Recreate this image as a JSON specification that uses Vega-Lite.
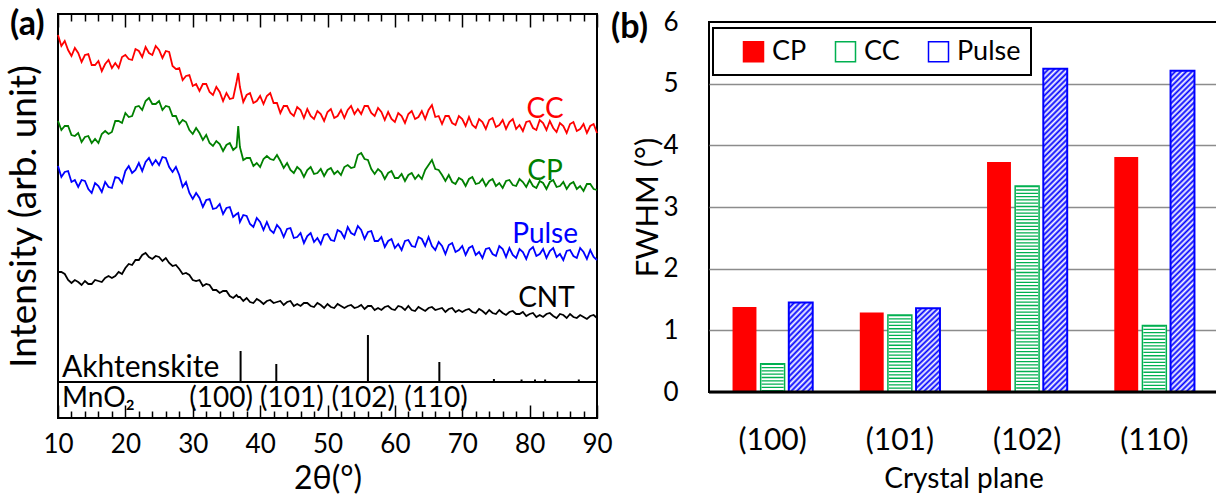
{
"$schema": "https://vega.github.io/schema/vega-lite/v6.json",
"background": "white",
"padding": {"left": 4, "top": 7, "right": 0, "bottom": 0},
"spacing": -4,
"datasets": {
"spectra": [
{"t":10,"CC":383,"CP":297,"Pulse":252,"CNT":146},
{"t":10.5,"CC":372,"CP":288,"Pulse":241,"CNT":146},
{"t":11,"CC":377,"CP":292,"Pulse":246,"CNT":144},
{"t":11.5,"CC":368,"CP":292,"Pulse":247,"CNT":138},
{"t":12,"CC":362,"CP":283,"Pulse":236,"CNT":135},
{"t":12.5,"CC":370,"CP":282,"Pulse":238,"CNT":138},
{"t":13,"CC":365,"CP":285,"Pulse":231,"CNT":136},
{"t":13.5,"CC":356,"CP":276,"Pulse":238,"CNT":133},
{"t":14,"CC":363,"CP":281,"Pulse":237,"CNT":137},
{"t":14.5,"CC":364,"CP":282,"Pulse":229,"CNT":134},
{"t":15,"CC":353,"CP":275,"Pulse":225,"CNT":134},
{"t":15.5,"CC":353,"CP":279,"Pulse":235,"CNT":138},
{"t":16,"CC":357,"CP":275,"Pulse":232,"CNT":137},
{"t":16.5,"CC":347,"CP":284,"Pulse":226,"CNT":136},
{"t":17,"CC":354,"CP":287,"Pulse":236,"CNT":140},
{"t":17.5,"CC":358,"CP":284,"Pulse":231,"CNT":142},
{"t":18,"CC":350,"CP":286,"Pulse":230,"CNT":140},
{"t":18.5,"CC":355,"CP":297,"Pulse":241,"CNT":142},
{"t":19,"CC":350,"CP":297,"Pulse":240,"CNT":146},
{"t":19.5,"CC":361,"CP":295,"Pulse":235,"CNT":144},
{"t":20,"CC":363,"CP":305,"Pulse":247,"CNT":150},
{"t":20.5,"CC":359,"CP":301,"Pulse":252,"CNT":154},
{"t":21,"CC":358,"CP":302,"Pulse":245,"CNT":153},
{"t":21.5,"CC":369,"CP":311,"Pulse":248,"CNT":158},
{"t":22,"CC":367,"CP":312,"Pulse":255,"CNT":158},
{"t":22.5,"CC":361,"CP":308,"Pulse":247,"CNT":163},
{"t":23,"CC":371,"CP":317,"Pulse":256,"CNT":165},
{"t":23.5,"CC":365,"CP":320,"Pulse":260,"CNT":161},
{"t":24,"CC":363,"CP":314,"Pulse":253,"CNT":159},
{"t":24.5,"CC":372,"CP":314,"Pulse":258,"CNT":162},
{"t":25,"CC":368,"CP":317,"Pulse":253,"CNT":161},
{"t":25.5,"CC":360,"CP":308,"Pulse":261,"CNT":157},
{"t":26,"CC":367,"CP":312,"Pulse":260,"CNT":160},
{"t":26.5,"CC":366,"CP":311,"Pulse":251,"CNT":155},
{"t":27,"CC":352,"CP":302,"Pulse":246,"CNT":152},
{"t":27.5,"CC":349,"CP":302,"Pulse":251,"CNT":153},
{"t":28,"CC":350,"CP":294,"Pulse":243,"CNT":149},
{"t":28.5,"CC":338,"CP":298,"Pulse":231,"CNT":144},
{"t":29,"CC":342,"CP":296,"Pulse":236,"CNT":145},
{"t":29.5,"CC":343,"CP":288,"Pulse":225,"CNT":143},
{"t":30,"CC":332,"CP":284,"Pulse":219,"CNT":138},
{"t":30.5,"CC":334,"CP":290,"Pulse":225,"CNT":137},
{"t":31,"CC":327,"CP":285,"Pulse":220,"CNT":138},
{"t":31.5,"CC":334,"CP":278,"Pulse":211,"CNT":132},
{"t":32,"CC":334,"CP":283,"Pulse":218,"CNT":134},
{"t":32.5,"CC":326,"CP":275,"Pulse":219,"CNT":133},
{"t":33,"CC":323,"CP":272,"Pulse":209,"CNT":128},
{"t":33.5,"CC":331,"CP":277,"Pulse":210,"CNT":128},
{"t":34,"CC":326,"CP":274,"Pulse":214,"CNT":125},
{"t":34.5,"CC":317,"CP":267,"Pulse":204,"CNT":127},
{"t":35,"CC":325,"CP":273,"Pulse":210,"CNT":127},
{"t":35.5,"CC":319,"CP":275,"Pulse":211,"CNT":122},
{"t":36,"CC":320,"CP":268,"Pulse":201,"CNT":120},
{"t":36.5,"CC":336,"CP":271,"Pulse":204,"CNT":123},
{"t":36.75,"CC":345,"CP":292,"Pulse":205,"CNT":121},
{"t":37,"CC":331,"CP":271,"Pulse":196,"CNT":121},
{"t":37.5,"CC":316,"CP":258,"Pulse":203,"CNT":117},
{"t":38,"CC":323,"CP":260,"Pulse":202,"CNT":120},
{"t":38.5,"CC":325,"CP":260,"Pulse":194,"CNT":116},
{"t":39,"CC":315,"CP":252,"Pulse":191,"CNT":115},
{"t":39.5,"CC":317,"CP":255,"Pulse":200,"CNT":119},
{"t":40,"CC":322,"CP":251,"Pulse":196,"CNT":117},
{"t":40.5,"CC":314,"CP":259,"Pulse":188,"CNT":114},
{"t":41,"CC":322,"CP":262,"Pulse":196,"CNT":117},
{"t":41.5,"CC":325,"CP":259,"Pulse":188,"CNT":118},
{"t":42,"CC":315,"CP":258,"Pulse":185,"CNT":115},
{"t":42.5,"CC":315,"CP":263,"Pulse":193,"CNT":116},
{"t":43,"CC":305,"CP":257,"Pulse":189,"CNT":117},
{"t":43.5,"CC":312,"CP":250,"Pulse":181,"CNT":113},
{"t":44,"CC":312,"CP":255,"Pulse":189,"CNT":116},
{"t":44.5,"CC":305,"CP":248,"Pulse":190,"CNT":117},
{"t":45,"CC":302,"CP":245,"Pulse":180,"CNT":112},
{"t":45.5,"CC":311,"CP":251,"Pulse":181,"CNT":114},
{"t":46,"CC":308,"CP":248,"Pulse":185,"CNT":112},
{"t":46.5,"CC":300,"CP":241,"Pulse":175,"CNT":115},
{"t":47,"CC":309,"CP":248,"Pulse":182,"CNT":115},
{"t":47.5,"CC":302,"CP":251,"Pulse":185,"CNT":112},
{"t":48,"CC":299,"CP":244,"Pulse":176,"CNT":111},
{"t":48.5,"CC":307,"CP":245,"Pulse":180,"CNT":115},
{"t":49,"CC":304,"CP":249,"Pulse":174,"CNT":113},
{"t":49.5,"CC":297,"CP":242,"Pulse":183,"CNT":110},
{"t":50,"CC":306,"CP":248,"Pulse":184,"CNT":114},
{"t":50.5,"CC":309,"CP":250,"Pulse":178,"CNT":111},
{"t":51,"CC":300,"CP":244,"Pulse":177,"CNT":110},
{"t":51.5,"CC":302,"CP":247,"Pulse":188,"CNT":114},
{"t":52,"CC":308,"CP":243,"Pulse":186,"CNT":112},
{"t":52.5,"CC":300,"CP":251,"Pulse":180,"CNT":110},
{"t":53,"CC":308,"CP":253,"Pulse":191,"CNT":112},
{"t":53.5,"CC":312,"CP":250,"Pulse":185,"CNT":113},
{"t":54,"CC":304,"CP":251,"Pulse":183,"CNT":110},
{"t":54.5,"CC":309,"CP":263,"Pulse":192,"CNT":111},
{"t":55,"CC":304,"CP":265,"Pulse":188,"CNT":113},
{"t":55.5,"CC":312,"CP":259,"Pulse":179,"CNT":109},
{"t":56,"CC":312,"CP":258,"Pulse":186,"CNT":112},
{"t":56.5,"CC":305,"CP":249,"Pulse":187,"CNT":112},
{"t":57,"CC":302,"CP":244,"Pulse":177,"CNT":108},
{"t":57.5,"CC":310,"CP":249,"Pulse":177,"CNT":110},
{"t":58,"CC":306,"CP":246,"Pulse":181,"CNT":108},
{"t":58.5,"CC":298,"CP":239,"Pulse":171,"CNT":111},
{"t":59,"CC":306,"CP":245,"Pulse":177,"CNT":112},
{"t":59.5,"CC":299,"CP":247,"Pulse":179,"CNT":109},
{"t":60,"CC":296,"CP":240,"Pulse":170,"CNT":108},
{"t":60.5,"CC":305,"CP":240,"Pulse":174,"CNT":112},
{"t":61,"CC":302,"CP":244,"Pulse":168,"CNT":111},
{"t":61.5,"CC":295,"CP":237,"Pulse":177,"CNT":108},
{"t":62,"CC":304,"CP":243,"Pulse":178,"CNT":112},
{"t":62.5,"CC":307,"CP":245,"Pulse":172,"CNT":108},
{"t":63,"CC":299,"CP":239,"Pulse":171,"CNT":107},
{"t":63.5,"CC":301,"CP":243,"Pulse":181,"CNT":111},
{"t":64,"CC":307,"CP":239,"Pulse":179,"CNT":109},
{"t":64.5,"CC":299,"CP":248,"Pulse":172,"CNT":107},
{"t":65,"CC":308,"CP":253,"Pulse":181,"CNT":110},
{"t":65.5,"CC":313,"CP":258,"Pulse":172,"CNT":111},
{"t":66,"CC":301,"CP":249,"Pulse":168,"CNT":108},
{"t":66.5,"CC":302,"CP":248,"Pulse":176,"CNT":109},
{"t":67,"CC":294,"CP":243,"Pulse":172,"CNT":110},
{"t":67.5,"CC":302,"CP":237,"Pulse":164,"CNT":106},
{"t":68,"CC":302,"CP":243,"Pulse":173,"CNT":109},
{"t":68.5,"CC":295,"CP":236,"Pulse":175,"CNT":110},
{"t":69,"CC":293,"CP":234,"Pulse":166,"CNT":106},
{"t":69.5,"CC":302,"CP":240,"Pulse":168,"CNT":108},
{"t":70,"CC":299,"CP":238,"Pulse":172,"CNT":106},
{"t":70.5,"CC":292,"CP":232,"Pulse":163,"CNT":108},
{"t":71,"CC":301,"CP":239,"Pulse":170,"CNT":109},
{"t":71.5,"CC":293,"CP":241,"Pulse":172,"CNT":106},
{"t":72,"CC":290,"CP":234,"Pulse":163,"CNT":105},
{"t":72.5,"CC":299,"CP":235,"Pulse":166,"CNT":109},
{"t":73,"CC":296,"CP":239,"Pulse":160,"CNT":107},
{"t":73.5,"CC":289,"CP":232,"Pulse":169,"CNT":104},
{"t":74,"CC":298,"CP":237,"Pulse":170,"CNT":108},
{"t":74.5,"CC":300,"CP":239,"Pulse":164,"CNT":105},
{"t":75,"CC":291,"CP":232,"Pulse":162,"CNT":104},
{"t":75.5,"CC":293,"CP":235,"Pulse":172,"CNT":108},
{"t":76,"CC":298,"CP":230,"Pulse":169,"CNT":105},
{"t":76.5,"CC":289,"CP":237,"Pulse":161,"CNT":103},
{"t":77,"CC":296,"CP":238,"Pulse":170,"CNT":106},
{"t":77.5,"CC":299,"CP":233,"Pulse":163,"CNT":107},
{"t":78,"CC":289,"CP":232,"Pulse":160,"CNT":104},
{"t":78.5,"CC":293,"CP":239,"Pulse":169,"CNT":104},
{"t":79,"CC":287,"CP":236,"Pulse":166,"CNT":106},
{"t":79.5,"CC":296,"CP":231,"Pulse":159,"CNT":102},
{"t":80,"CC":297,"CP":238,"Pulse":168,"CNT":104},
{"t":80.5,"CC":290,"CP":232,"Pulse":171,"CNT":105},
{"t":81,"CC":288,"CP":230,"Pulse":162,"CNT":101},
{"t":81.5,"CC":298,"CP":237,"Pulse":164,"CNT":103},
{"t":82,"CC":295,"CP":235,"Pulse":169,"CNT":101},
{"t":82.5,"CC":288,"CP":229,"Pulse":160,"CNT":104},
{"t":83,"CC":297,"CP":236,"Pulse":167,"CNT":105},
{"t":83.5,"CC":290,"CP":238,"Pulse":170,"CNT":102},
{"t":84,"CC":286,"CP":231,"Pulse":161,"CNT":100},
{"t":84.5,"CC":295,"CP":232,"Pulse":164,"CNT":104},
{"t":85,"CC":292,"CP":236,"Pulse":158,"CNT":103},
{"t":85.5,"CC":285,"CP":229,"Pulse":167,"CNT":100},
{"t":86,"CC":294,"CP":234,"Pulse":168,"CNT":104},
{"t":86.5,"CC":296,"CP":236,"Pulse":162,"CNT":101},
{"t":87,"CC":287,"CP":229,"Pulse":160,"CNT":100},
{"t":87.5,"CC":289,"CP":232,"Pulse":170,"CNT":103},
{"t":88,"CC":294,"CP":227,"Pulse":166,"CNT":101},
{"t":88.5,"CC":285,"CP":234,"Pulse":159,"CNT":99},
{"t":89,"CC":292,"CP":234,"Pulse":168,"CNT":102},
{"t":89.5,"CC":294,"CP":229,"Pulse":161,"CNT":103},
{"t":90,"CC":285,"CP":228,"Pulse":158,"CNT":100}
],
"fwhm": [
{"plane":"(100)","series":"CP","val":1.38},
{"plane":"(100)","series":"CC","val":0.46},
{"plane":"(100)","series":"Pulse","val":1.45},
{"plane":"(101)","series":"CP","val":1.29},
{"plane":"(101)","series":"CC","val":1.25},
{"plane":"(101)","series":"Pulse","val":1.36},
{"plane":"(102)","series":"CP","val":3.73},
{"plane":"(102)","series":"CC","val":3.34},
{"plane":"(102)","series":"Pulse","val":5.24},
{"plane":"(110)","series":"CP","val":3.81},
{"plane":"(110)","series":"CC","val":1.08},
{"plane":"(110)","series":"Pulse","val":5.21}
]
},
"hconcat": [
{
"width": 539, "height": 404,
"title": {"text": "(a)", "anchor": "start", "frame": "group", "orient": "top", "dx": -48, "dy": 31, "offset": 2, "fontSize": 34, "fontWeight": "bold", "font": "Lato", "color": "black"},
"view": {"stroke": "black", "strokeWidth": 2},
"layer": [
{
"data": {"name": "spectra"},
"transform": [{"fold": ["CC","CP","Pulse","CNT"], "as": ["series","v"]}],
"mark": {"type": "line", "strokeWidth": 1.8},
"encoding": {
"x": {"field": "t", "type": "quantitative", "scale": {"domain": [10,90], "nice": false, "zero": false},
"axis": {"orient": "bottom", "values": [10,20,30,40,50,60,70,80,90], "ticks": false, "domain": false, "grid": false, "labelFontSize": 26, "labelPadding": 13, "labelFlush": false, "title": "2θ(°)", "titleFontSize": 32, "titlePadding": 6}},
"y": {"field": "v", "type": "quantitative", "scale": {"domain": [0,404], "nice": false, "zero": false},
"axis": {"labels": false, "ticks": false, "domain": false, "grid": false, "title": "Intensity (arb. unit)", "titleFontSize": 37, "titlePadding": 15}},
"color": {"field": "series", "type": "nominal", "scale": {"domain": ["CC","CP","Pulse","CNT"], "range": ["#FF0000","#008000","#0000FF","#000000"]}, "legend": null},
"detail": {"field": "series"}
}
},
{
"data": {"values": [{"t":37.1,"h":67},{"t":42.4,"h":54},{"t":56.0,"h":83},{"t":66.6,"h":56},{"t":74.7,"h":39},{"t":78.8,"h":38.5},{"t":80.8,"h":38.5},{"t":82.3,"h":38.5},{"t":87.3,"h":38.5}]},
"mark": {"type": "rule", "strokeWidth": 2, "color": "black"},
"encoding": {
"x": {"field": "t", "type": "quantitative", "axis": {"orient": "bottom", "values": [10,20,30,40,50,60,70,80,90], "labels": false, "ticks": true, "tickSize": -13, "tickWidth": 1.5, "tickColor": "black", "domain": false, "grid": false, "title": null}},
"y": {"field": "h", "type": "quantitative", "axis": {"labels": false, "ticks": false, "domain": false, "grid": false, "title": "Intensity (arb. unit)", "titleFontSize": 37, "titlePadding": 15}},
"y2": {"datum": 36}
}
},
{
"data": {"values": [{"v": 36}]},
"mark": {"type": "rule", "strokeWidth": 2, "color": "black"},
"encoding": {"y": {"field": "v", "type": "quantitative", "axis": {"labels": false, "ticks": false, "domain": false, "grid": false, "title": "Intensity (arb. unit)", "titleFontSize": 37, "titlePadding": 15}}}
},
{
"data": {"values": [{"t": 10.6, "v": 41, "label": "Akhtenskite"}]},
"mark": {"type": "text", "align": "left", "baseline": "alphabetic", "fontSize": 30, "font": "Lato", "color": "black"},
"encoding": {
"x": {"field": "t", "type": "quantitative", "axis": {"orient": "bottom", "values": [12,14,16,18,22,24,26,28,32,34,36,38,42,44,46,48,52,54,56,58,62,64,66,68,72,74,76,78,82,84,86,88], "labels": false, "ticks": true, "tickSize": -7, "tickWidth": 1.5, "tickColor": "black", "domain": false, "grid": false, "title": null}},
"y": {"field": "v", "type": "quantitative", "axis": {"labels": false, "ticks": false, "domain": false, "grid": false, "title": "Intensity (arb. unit)", "titleFontSize": 37, "titlePadding": 15}},
"text": {"field": "label"}
}
},
{
"data": {"values": [{"t": 10.6, "v": 11, "label": "MnO₂"}]},
"mark": {"type": "text", "align": "left", "baseline": "alphabetic", "fontSize": 28, "font": "Lato", "color": "black"},
"encoding": {
"x": {"field": "t", "type": "quantitative", "axis": {"orient": "top", "values": [10,20,30,40,50,60,70,80,90], "labels": false, "ticks": true, "tickSize": -13, "tickWidth": 1.5, "tickColor": "black", "domain": false, "grid": false, "title": null}},
"y": {"field": "v", "type": "quantitative", "axis": {"labels": false, "ticks": false, "domain": false, "grid": false, "title": "Intensity (arb. unit)", "titleFontSize": 37, "titlePadding": 15}},
"text": {"field": "label"}
}
},
{
"data": {"values": [{"t": 34.2, "v": 11, "label": "(100)"},{"t": 44.7, "v": 11, "label": "(101)"},{"t": 55.3, "v": 11, "label": "(102)"},{"t": 66.1, "v": 11, "label": "(110)"}]},
"mark": {"type": "text", "align": "center", "baseline": "alphabetic", "fontSize": 28, "font": "Lato", "color": "black"},
"encoding": {
"x": {"field": "t", "type": "quantitative", "axis": {"orient": "top", "values": [12,14,16,18,22,24,26,28,32,34,36,38,42,44,46,48,52,54,56,58,62,64,66,68,72,74,76,78,82,84,86,88], "labels": false, "ticks": true, "tickSize": -7, "tickWidth": 1.5, "tickColor": "black", "domain": false, "grid": false, "title": null}},
"y": {"field": "v", "type": "quantitative", "axis": {"labels": false, "ticks": false, "domain": false, "grid": false, "title": "Intensity (arb. unit)", "titleFontSize": 37, "titlePadding": 15}},
"text": {"field": "label"}
}
},
{
"data": {"values": [{"t": 82.3, "v": 300, "series": "CC"},{"t": 82.3, "v": 238, "series": "CP"},{"t": 82.3, "v": 175, "series": "Pulse"},{"t": 82.5, "v": 111, "series": "CNT"}]},
"mark": {"type": "text", "align": "center", "baseline": "alphabetic", "fontSize": 28, "font": "Lato"},
"encoding": {
"x": {"field": "t", "type": "quantitative", "axis": null},
"y": {"field": "v", "type": "quantitative", "axis": {"labels": false, "ticks": false, "domain": false, "grid": false, "title": "Intensity (arb. unit)", "titleFontSize": 37, "titlePadding": 15}},
"text": {"field": "series"},
"color": {"field": "series", "type": "nominal", "legend": null}
}
}
],
"resolve": {"axis": {"x": "independent"}}
},
{
"vconcat": [
{
"width": 509, "height": 8,
"view": {"stroke": null, "fill": null},
"data": {"values": [{}]},
"mark": {"type": "point", "opacity": 0},
"encoding": {}
},
{
"width": 509, "height": 370,
"title": {"text": "(b)", "anchor": "start", "frame": "group", "orient": "top", "dx": -98, "dy": 43, "offset": 7, "fontSize": 34, "fontWeight": "bold", "font": "Lato", "color": "black"},
"view": {"stroke": "black", "strokeWidth": 2},
"layer": [
{
"data": {"name": "fwhm"},
"transform": [{"filter": "datum.series === 'CP'"}],
"mark": {"type": "bar", "strokeWidth": 1},
"encoding": {
"x": {"field": "plane", "type": "nominal", "scale": {"domain": ["(100)","(101)","(102)","(110)"], "paddingInner": 0.37, "paddingOuter": 0.185},
"axis": {"labelAngle": 0, "ticks": false, "domain": false, "grid": false, "labelFontSize": 30, "labelPadding": 33, "title": "Crystal plane", "titleFontSize": 28, "titlePadding": 10}},
"xOffset": {"field": "series", "type": "nominal", "scale": {"domain": ["CP","CC","Pulse"], "paddingInner": 0.15, "paddingOuter": 0}},
"y": {"field": "val", "type": "quantitative", "scale": {"domain": [0,6], "nice": false},
"axis": {"values": [0,1,2,3,4,5,6], "format": "d", "ticks": false, "domain": false, "labelFontSize": 26, "labelPadding": 31, "grid": true, "gridColor": "#8c8c8c", "gridWidth": 1.5, "gridOpacity": {"condition": {"test": "datum.value === 6", "value": 0}, "value": 1}, "title": "FWHM (°)", "titleFontSize": 31, "titlePadding": -2}},
"fill": {"field": "series", "type": "nominal",
"scale": {"domain": ["CP","CC","Pulse"], "range": ["#FF0000","#ffffff","#ffffff"]},
"legend": {"title": null, "orient": "none", "legendX": 655, "legendY": 14, "direction": "horizontal", "symbolType": "square", "symbolSize": 400, "labelFontSize": 27, "labelFont": "Lato", "labelColor": "black", "strokeColor": "black", "fillColor": "white", "padding": 10, "symbolOffset": 17, "columnPadding": 8, "labelOffset": 5,
"encode": {"symbols": {"update": {
"strokeWidth": {"value": 1.5},
"stroke": [{"test": "datum.value === 'CC'", "value": "#00B050"}, {"test": "datum.value === 'Pulse'", "value": "#0000FF"}, {"value": "#FF0000"}],
"fill": [
{"test": "datum.value === 'CC'", "value": {"gradient": "linear", "x1": 0, "y1": 0, "x2": 0, "y2": 1, "stops": [
{"offset":0,"color":"#00B050"},{"offset":0.07,"color":"#00B050"},{"offset":0.07,"color":"#ffffff"},{"offset":0.167,"color":"#ffffff"},
{"offset":0.167,"color":"#00B050"},{"offset":0.237,"color":"#00B050"},{"offset":0.237,"color":"#ffffff"},{"offset":0.333,"color":"#ffffff"},
{"offset":0.333,"color":"#00B050"},{"offset":0.403,"color":"#00B050"},{"offset":0.403,"color":"#ffffff"},{"offset":0.5,"color":"#ffffff"},
{"offset":0.5,"color":"#00B050"},{"offset":0.57,"color":"#00B050"},{"offset":0.57,"color":"#ffffff"},{"offset":0.667,"color":"#ffffff"},
{"offset":0.667,"color":"#00B050"},{"offset":0.737,"color":"#00B050"},{"offset":0.737,"color":"#ffffff"},{"offset":0.833,"color":"#ffffff"},
{"offset":0.833,"color":"#00B050"},{"offset":0.903,"color":"#00B050"},{"offset":0.903,"color":"#ffffff"},{"offset":1,"color":"#ffffff"}]}},
{"test": "datum.value === 'Pulse'", "value": {"gradient": "linear", "x1": 0, "y1": 0, "x2": 1, "y2": 1, "stops": [
{"offset":0,"color":"#0000FF"},{"offset":0.083,"color":"#ffffff"},{"offset":0.167,"color":"#0000FF"},{"offset":0.25,"color":"#ffffff"},
{"offset":0.333,"color":"#0000FF"},{"offset":0.417,"color":"#ffffff"},{"offset":0.5,"color":"#0000FF"},{"offset":0.583,"color":"#ffffff"},
{"offset":0.667,"color":"#0000FF"},{"offset":0.75,"color":"#ffffff"},{"offset":0.833,"color":"#0000FF"},{"offset":0.917,"color":"#ffffff"},{"offset":1,"color":"#0000FF"}]}},
{"value": "#FF0000"}]}}}}}
}
},
{
"data": {"name": "fwhm"},
"transform": [{"filter": "datum.series === 'CC'"}],
"mark": {"type": "bar", "fill": "white", "stroke": "#00B050", "strokeWidth": 1.5},
"encoding": {
"x": {"field": "plane", "type": "nominal"},
"xOffset": {"field": "series", "type": "nominal"},
"y": {"field": "val", "type": "quantitative"}
}
},
{
"data": {"name": "fwhm"},
"transform": [{"filter": "datum.series === 'CC'"}],
"mark": {"type": "rule", "color": "#00B050", "strokeWidth": 22, "strokeDash": [1.3, 2], "strokeCap": "butt"},
"encoding": {
"x": {"field": "plane", "type": "nominal"},
"xOffset": {"field": "series", "type": "nominal"},
"y": {"field": "val", "type": "quantitative"},
"y2": {"datum": 0}
}
},
{
"data": {"name": "fwhm"},
"transform": [{"filter": "datum.series === 'Pulse' && (datum.plane === '(100)' || datum.plane === '(101)')"}],
"mark": {"type": "bar", "stroke": "#0000FF", "strokeWidth": 2,
"fill": {"gradient": "linear", "x1": 0, "y1": 0, "x2": 0.325, "y2": 1.185, "stops": [
{"offset":0,"color":"#00f"},{"offset":0.025,"color":"#fff"},{"offset":0.05,"color":"#00f"},{"offset":0.075,"color":"#fff"},{"offset":0.1,"color":"#00f"},{"offset":0.125,"color":"#fff"},{"offset":0.15,"color":"#00f"},{"offset":0.175,"color":"#fff"},{"offset":0.2,"color":"#00f"},{"offset":0.225,"color":"#fff"},{"offset":0.25,"color":"#00f"},{"offset":0.275,"color":"#fff"},{"offset":0.3,"color":"#00f"},{"offset":0.325,"color":"#fff"},{"offset":0.35,"color":"#00f"},{"offset":0.375,"color":"#fff"},{"offset":0.4,"color":"#00f"},{"offset":0.425,"color":"#fff"},{"offset":0.45,"color":"#00f"},{"offset":0.475,"color":"#fff"},{"offset":0.5,"color":"#00f"},{"offset":0.525,"color":"#fff"},{"offset":0.55,"color":"#00f"},{"offset":0.575,"color":"#fff"},{"offset":0.6,"color":"#00f"},{"offset":0.625,"color":"#fff"},{"offset":0.65,"color":"#00f"},{"offset":0.675,"color":"#fff"},{"offset":0.7,"color":"#00f"},{"offset":0.725,"color":"#fff"},{"offset":0.75,"color":"#00f"},{"offset":0.775,"color":"#fff"},{"offset":0.8,"color":"#00f"},{"offset":0.825,"color":"#fff"},{"offset":0.85,"color":"#00f"},{"offset":0.875,"color":"#fff"},{"offset":0.9,"color":"#00f"},{"offset":0.925,"color":"#fff"},{"offset":0.95,"color":"#00f"},{"offset":0.975,"color":"#fff"},{"offset":1,"color":"#00f"}]}},
"encoding": {
"x": {"field": "plane", "type": "nominal"},
"xOffset": {"field": "series", "type": "nominal"},
"y": {"field": "val", "type": "quantitative"}
}
},
{
"data": {"name": "fwhm"},
"transform": [{"filter": "datum.series === 'Pulse' && (datum.plane === '(102)' || datum.plane === '(110)')"}],
"mark": {"type": "bar", "stroke": "#0000FF", "strokeWidth": 2,
"fill": {"gradient": "linear", "x1": 0, "y1": 0, "x2": 0.079, "y2": 1.068, "stops": [
{"offset":0,"color":"#00f"},{"offset":0.008,"color":"#fff"},{"offset":0.016,"color":"#00f"},{"offset":0.024,"color":"#fff"},{"offset":0.032,"color":"#00f"},{"offset":0.04,"color":"#fff"},{"offset":0.048,"color":"#00f"},{"offset":0.056,"color":"#fff"},{"offset":0.064,"color":"#00f"},{"offset":0.072,"color":"#fff"},{"offset":0.08,"color":"#00f"},{"offset":0.088,"color":"#fff"},{"offset":0.096,"color":"#00f"},{"offset":0.104,"color":"#fff"},{"offset":0.112,"color":"#00f"},{"offset":0.12,"color":"#fff"},{"offset":0.128,"color":"#00f"},{"offset":0.136,"color":"#fff"},{"offset":0.144,"color":"#00f"},{"offset":0.152,"color":"#fff"},{"offset":0.16,"color":"#00f"},{"offset":0.168,"color":"#fff"},{"offset":0.176,"color":"#00f"},{"offset":0.184,"color":"#fff"},{"offset":0.192,"color":"#00f"},{"offset":0.2,"color":"#fff"},{"offset":0.208,"color":"#00f"},{"offset":0.216,"color":"#fff"},{"offset":0.224,"color":"#00f"},{"offset":0.232,"color":"#fff"},{"offset":0.24,"color":"#00f"},{"offset":0.248,"color":"#fff"},{"offset":0.256,"color":"#00f"},{"offset":0.264,"color":"#fff"},{"offset":0.272,"color":"#00f"},{"offset":0.28,"color":"#fff"},{"offset":0.288,"color":"#00f"},{"offset":0.296,"color":"#fff"},{"offset":0.304,"color":"#00f"},{"offset":0.312,"color":"#fff"},{"offset":0.32,"color":"#00f"},{"offset":0.328,"color":"#fff"},{"offset":0.336,"color":"#00f"},{"offset":0.344,"color":"#fff"},{"offset":0.352,"color":"#00f"},{"offset":0.36,"color":"#fff"},{"offset":0.368,"color":"#00f"},{"offset":0.376,"color":"#fff"},{"offset":0.384,"color":"#00f"},{"offset":0.392,"color":"#fff"},{"offset":0.4,"color":"#00f"},{"offset":0.408,"color":"#fff"},{"offset":0.416,"color":"#00f"},{"offset":0.424,"color":"#fff"},{"offset":0.432,"color":"#00f"},{"offset":0.44,"color":"#fff"},{"offset":0.448,"color":"#00f"},{"offset":0.456,"color":"#fff"},{"offset":0.464,"color":"#00f"},{"offset":0.472,"color":"#fff"},{"offset":0.48,"color":"#00f"},{"offset":0.488,"color":"#fff"},{"offset":0.496,"color":"#00f"},{"offset":0.504,"color":"#fff"},{"offset":0.512,"color":"#00f"},{"offset":0.52,"color":"#fff"},{"offset":0.528,"color":"#00f"},{"offset":0.536,"color":"#fff"},{"offset":0.544,"color":"#00f"},{"offset":0.552,"color":"#fff"},{"offset":0.56,"color":"#00f"},{"offset":0.568,"color":"#fff"},{"offset":0.576,"color":"#00f"},{"offset":0.584,"color":"#fff"},{"offset":0.592,"color":"#00f"},{"offset":0.6,"color":"#fff"},{"offset":0.608,"color":"#00f"},{"offset":0.616,"color":"#fff"},{"offset":0.624,"color":"#00f"},{"offset":0.632,"color":"#fff"},{"offset":0.64,"color":"#00f"},{"offset":0.648,"color":"#fff"},{"offset":0.656,"color":"#00f"},{"offset":0.664,"color":"#fff"},{"offset":0.672,"color":"#00f"},{"offset":0.68,"color":"#fff"},{"offset":0.688,"color":"#00f"},{"offset":0.696,"color":"#fff"},{"offset":0.704,"color":"#00f"},{"offset":0.712,"color":"#fff"},{"offset":0.72,"color":"#00f"},{"offset":0.728,"color":"#fff"},{"offset":0.736,"color":"#00f"},{"offset":0.744,"color":"#fff"},{"offset":0.752,"color":"#00f"},{"offset":0.76,"color":"#fff"},{"offset":0.768,"color":"#00f"},{"offset":0.776,"color":"#fff"},{"offset":0.784,"color":"#00f"},{"offset":0.792,"color":"#fff"},{"offset":0.8,"color":"#00f"},{"offset":0.808,"color":"#fff"},{"offset":0.816,"color":"#00f"},{"offset":0.824,"color":"#fff"},{"offset":0.832,"color":"#00f"},{"offset":0.84,"color":"#fff"},{"offset":0.848,"color":"#00f"},{"offset":0.856,"color":"#fff"},{"offset":0.864,"color":"#00f"},{"offset":0.872,"color":"#fff"},{"offset":0.88,"color":"#00f"},{"offset":0.888,"color":"#fff"},{"offset":0.896,"color":"#00f"},{"offset":0.904,"color":"#fff"},{"offset":0.912,"color":"#00f"},{"offset":0.92,"color":"#fff"},{"offset":0.928,"color":"#00f"},{"offset":0.936,"color":"#fff"},{"offset":0.944,"color":"#00f"},{"offset":0.952,"color":"#fff"},{"offset":0.96,"color":"#00f"},{"offset":0.968,"color":"#fff"},{"offset":0.976,"color":"#00f"},{"offset":0.984,"color":"#fff"},{"offset":0.992,"color":"#00f"},{"offset":1,"color":"#fff"}]}},
"encoding": {
"x": {"field": "plane", "type": "nominal"},
"xOffset": {"field": "series", "type": "nominal"},
"y": {"field": "val", "type": "quantitative"}
}
},
{
"data": {"values": [{"z": 0}]},
"mark": {"type": "rule", "color": "black", "strokeWidth": 3},
"encoding": {"y": {"field": "z", "type": "quantitative"}}
}
]
}
],
"spacing": 0,
"bounds": "flush"
}
],
"config": {
"font": "Lato",
"view": {"stroke": "black", "strokeWidth": 2},
"axis": {"labelFont": "Lato", "titleFont": "Lato", "labelColor": "black", "titleColor": "black", "titleFontWeight": "normal"},
"legend": {"strokeWidth": 2},
"text": {"font": "Lato"},
"title": {"font": "Lato", "color": "black"}
}
}
